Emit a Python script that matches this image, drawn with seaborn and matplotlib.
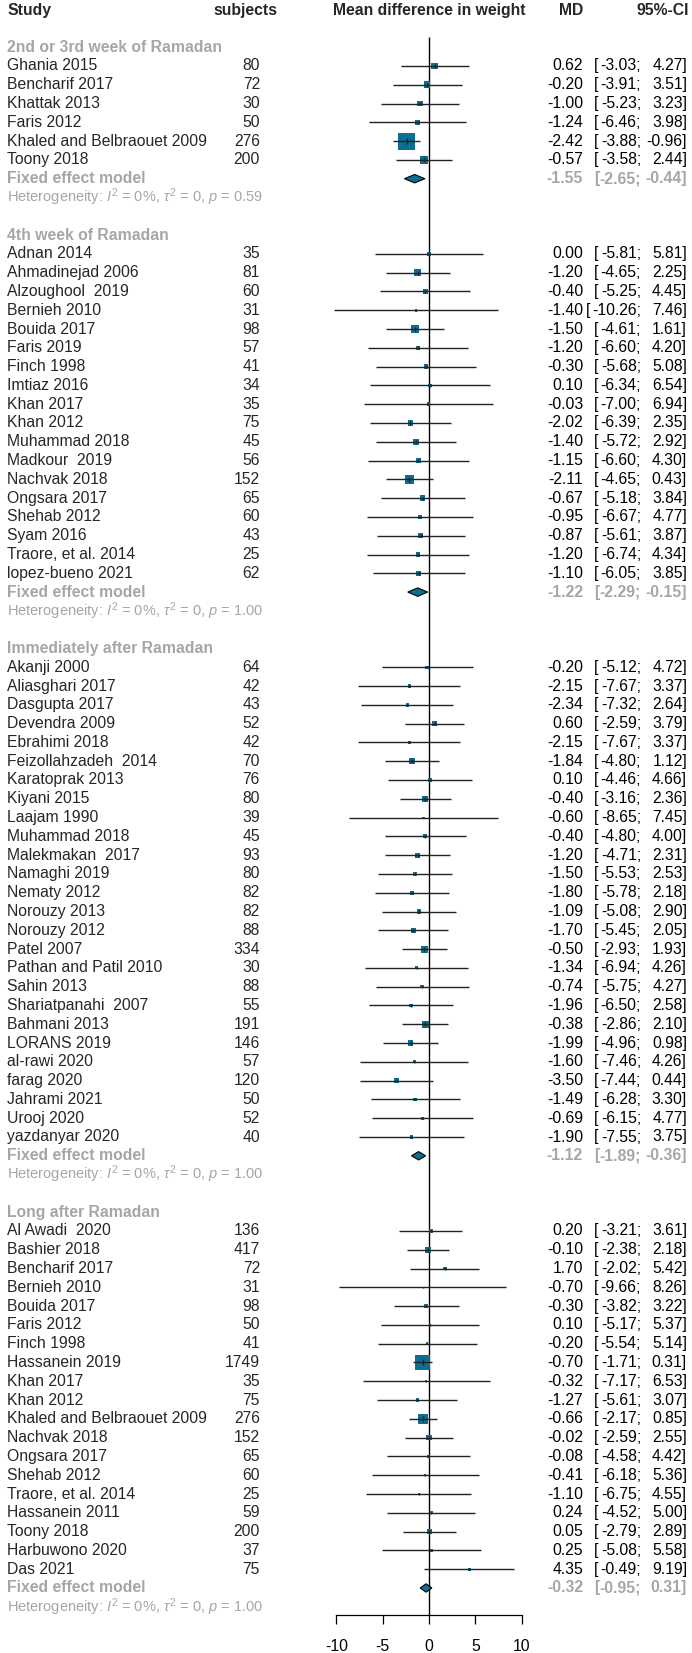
import numpy as np
import pandas as pd
import matplotlib
matplotlib.use("Agg")
import matplotlib.pyplot as plt
import seaborn as sns

# ---- data ----
g1_title = "2nd or 3rd week of Ramadan"
g1_study = ["Ghania 2015", "Bencharif 2017", "Khattak 2013", "Faris 2012",
            "Khaled and Belbraouet 2009", "Toony 2018"]
g1_n = [80, 72, 30, 50, 276, 200]
g1_md = [0.62, -0.20, -1.00, -1.24, -2.42, -0.57]
g1_lo = [-3.03, -3.91, -5.23, -6.46, -3.88, -3.58]
g1_hi = [4.27, 3.51, 3.23, 3.98, -0.96, 2.44]
g1_fixed = [-1.55, -2.65, -0.44]
g1_p = "0.59"

g2_title = "4th week of Ramadan"
g2_study = ["Adnan 2014", "Ahmadinejad 2006", "Alzoughool  2019", "Bernieh 2010",
            "Bouida 2017", "Faris 2019", "Finch 1998", "Imtiaz 2016", "Khan 2017",
            "Khan 2012", "Muhammad 2018", "Madkour  2019", "Nachvak 2018",
            "Ongsara 2017", "Shehab 2012", "Syam 2016", "Traore, et al. 2014",
            "lopez-bueno 2021"]
g2_n = [35, 81, 60, 31, 98, 57, 41, 34, 35, 75, 45, 56, 152, 65, 60, 43, 25, 62]
g2_md = [0.00, -1.20, -0.40, -1.40, -1.50, -1.20, -0.30, 0.10, -0.03, -2.02,
         -1.40, -1.15, -2.11, -0.67, -0.95, -0.87, -1.20, -1.10]
g2_lo = [-5.81, -4.65, -5.25, -10.26, -4.61, -6.60, -5.68, -6.34, -7.00, -6.39,
         -5.72, -6.60, -4.65, -5.18, -6.67, -5.61, -6.74, -6.05]
g2_hi = [5.81, 2.25, 4.45, 7.46, 1.61, 4.20, 5.08, 6.54, 6.94, 2.35,
         2.92, 4.30, 0.43, 3.84, 4.77, 3.87, 4.34, 3.85]
g2_fixed = [-1.22, -2.29, -0.15]
g2_p = "1.00"

g3_title = "Immediately after Ramadan"
g3_study = ["Akanji 2000", "Aliasghari 2017", "Dasgupta 2017", "Devendra 2009",
            "Ebrahimi 2018", "Feizollahzadeh  2014", "Karatoprak 2013", "Kiyani 2015",
            "Laajam 1990", "Muhammad 2018", "Malekmakan  2017", "Namaghi 2019",
            "Nematy 2012", "Norouzy 2013", "Norouzy 2012", "Patel 2007",
            "Pathan and Patil 2010", "Sahin 2013", "Shariatpanahi  2007",
            "Bahmani 2013", "LORANS 2019", "al-rawi 2020", "farag 2020",
            "Jahrami 2021", "Urooj 2020", "yazdanyar 2020"]
g3_n = [64, 42, 43, 52, 42, 70, 76, 80, 39, 45, 93, 80, 82, 82, 88, 334, 30, 88,
        55, 191, 146, 57, 120, 50, 52, 40]
g3_md = [-0.20, -2.15, -2.34, 0.60, -2.15, -1.84, 0.10, -0.40, -0.60, -0.40,
         -1.20, -1.50, -1.80, -1.09, -1.70, -0.50, -1.34, -0.74, -1.96, -0.38,
         -1.99, -1.60, -3.50, -1.49, -0.69, -1.90]
g3_lo = [-5.12, -7.67, -7.32, -2.59, -7.67, -4.80, -4.46, -3.16, -8.65, -4.80,
         -4.71, -5.53, -5.78, -5.08, -5.45, -2.93, -6.94, -5.75, -6.50, -2.86,
         -4.96, -7.46, -7.44, -6.28, -6.15, -7.55]
g3_hi = [4.72, 3.37, 2.64, 3.79, 3.37, 1.12, 4.66, 2.36, 7.45, 4.00,
         2.31, 2.53, 2.18, 2.90, 2.05, 1.93, 4.26, 4.27, 2.58, 2.10,
         0.98, 4.26, 0.44, 3.30, 4.77, 3.75]
g3_fixed = [-1.12, -1.89, -0.36]
g3_p = "1.00"

g4_title = "Long after Ramadan"
g4_study = ["Al Awadi  2020", "Bashier 2018", "Bencharif 2017", "Bernieh 2010",
            "Bouida 2017", "Faris 2012", "Finch 1998", "Hassanein 2019", "Khan 2017",
            "Khan 2012", "Khaled and Belbraouet 2009", "Nachvak 2018", "Ongsara 2017",
            "Shehab 2012", "Traore, et al. 2014", "Hassanein 2011", "Toony 2018",
            "Harbuwono 2020", "Das 2021"]
g4_n = [136, 417, 72, 31, 98, 50, 41, 1749, 35, 75, 276, 152, 65, 60, 25, 59, 200, 37, 75]
g4_md = [0.20, -0.10, 1.70, -0.70, -0.30, 0.10, -0.20, -0.70, -0.32, -1.27,
         -0.66, -0.02, -0.08, -0.41, -1.10, 0.24, 0.05, 0.25, 4.35]
g4_lo = [-3.21, -2.38, -2.02, -9.66, -3.82, -5.17, -5.54, -1.71, -7.17, -5.61,
         -2.17, -2.59, -4.58, -6.18, -6.75, -4.52, -2.79, -5.08, -0.49]
g4_hi = [3.61, 2.18, 5.42, 8.26, 3.22, 5.37, 5.14, 0.31, 6.53, 3.07,
         0.85, 2.55, 4.42, 5.36, 4.55, 5.00, 2.89, 5.58, 9.19]
g4_fixed = [-0.32, -0.95, 0.31]
g4_p = "1.00"

x_ticks = [-10, -5, 0, 5, 10]

groups = [
    (g1_title, g1_study, g1_n, g1_md, g1_lo, g1_hi, g1_fixed, g1_p),
    (g2_title, g2_study, g2_n, g2_md, g2_lo, g2_hi, g2_fixed, g2_p),
    (g3_title, g3_study, g3_n, g3_md, g3_lo, g3_hi, g3_fixed, g3_p),
    (g4_title, g4_study, g4_n, g4_md, g4_lo, g4_hi, g4_fixed, g4_p),
]

# ---- layout ----
W, H = 692, 1653
X0, PX_UNIT = 429, 9.27      # pixel of x=0, pixels per unit
Y0, ROW = 9.6, 18.79         # pixel of row 0, pixels per row
BLUE = "#0b6e92"
GREY = "#a6a6a6"
FS = 11.3


def px(x):
    return (x - X0) / PX_UNIT


sns.set_style("white")
plt.rcParams["font.family"] = ["Liberation Sans", "DejaVu Sans"]
plt.rcParams["mathtext.fontset"] = "custom"
plt.rcParams["mathtext.rm"] = "Liberation Sans"
plt.rcParams["mathtext.it"] = "Liberation Sans:italic"

# build study table with row positions and within-group weights
rows = []
fixed_rows = []
cur = 2
for title, study, n, md, lo, hi, fixed, p in groups:
    se = (np.array(hi) - np.array(lo)) / 3.92
    w = 1 / se ** 2
    pct = 100 * w / w.sum()
    for i in range(len(study)):
        rows.append(dict(study=study[i], n=n[i], md=md[i], lo=lo[i], hi=hi[i],
                         row=cur + 1 + i, pct=pct[i]))
    fixed_rows.append((title, cur, cur + len(study) + 1, fixed, p))
    cur += len(study) + 4
df = pd.DataFrame(rows)
df["side_px"] = 2.25 * np.sqrt(df["pct"])
df["s"] = (df["side_px"] * 0.72) ** 2

fig = plt.figure(figsize=(W / 100, H / 100), dpi=100)
ax = fig.add_axes([0, 0, 1, 1])
ax.set_xlim(px(0), px(W))
ax.set_ylim((H - Y0) / ROW, -Y0 / ROW)

axis_row = (1615 - Y0) / ROW
ax.vlines(0, (37 - Y0) / ROW, axis_row, color="black", lw=1.0, zorder=2)

smin, smax = df["s"].min(), df["s"].max()
sns.scatterplot(data=df, x="md", y="row", size="s", sizes=(smin, smax),
                size_norm=(smin, smax), marker="s", color=BLUE, linewidth=0,
                legend=False, ax=ax, zorder=3)
ax.hlines(df["row"], df["lo"], df["hi"], color="#222222", lw=1.0, zorder=4)
half = np.minimum(3.0, df["side_px"] * 0.3) / ROW
ax.vlines(df["md"], df["row"] - half, df["row"] + half, color="#222222", lw=1.0, zorder=4)

# header
hy = 0.07
ax.text(px(7), hy, "Study", ha="left", va="center", fontsize=FS, fontweight="bold")
ax.text(px(277), hy, "subjects", ha="right", va="center", fontsize=FS, fontweight="bold")
ax.text(0, hy, "Mean difference in weight", ha="center", va="center", fontsize=FS, fontweight="bold")
ax.text(px(583), hy, "MD", ha="right", va="center", fontsize=FS, fontweight="bold")
ax.text(px(689), hy, "95%-CI", ha="right", va="center", fontsize=FS, fontweight="bold")


def ci_text(r, md, lo, hi, color, weight):
    kw = dict(va="center", fontsize=FS, color=color, fontweight=weight)
    lo_str = f"{lo:.2f}"
    ax.text(px(583), r, f"{md:.2f}", ha="right", **kw)
    # R pads the short bounds with a space, so "[" only moves for 3-digit bounds
    ax.text(px(594 if len(lo_str) < 6 else 586), r, "[", ha="left", **kw)
    ax.text(px(641), r, lo_str + ";", ha="right", **kw)
    ax.text(px(687), r, f"{hi:.2f}]", ha="right", **kw)


for _, d in df.iterrows():
    ax.text(px(7), d["row"], d["study"], ha="left", va="center", fontsize=FS)
    ax.text(px(260), d["row"], str(d["n"]), ha="right", va="center", fontsize=FS)
    ci_text(d["row"], d["md"], d["lo"], d["hi"], "black", "normal")

for title, trow, frow, fixed, p in fixed_rows:
    ax.text(px(7), trow, title, ha="left", va="center", fontsize=FS,
            color=GREY, fontweight="bold")
    md, lo, hi = fixed
    h = 4.2 / ROW
    ax.fill([lo, md, hi, md], [frow, frow - h, frow, frow + h],
            facecolor=BLUE, edgecolor="black", lw=0.8, zorder=3)
    ax.text(px(7), frow, "Fixed effect model", ha="left", va="center",
            fontsize=FS, color=GREY, fontweight="bold")
    ci_text(frow, md, lo, hi, GREY, "bold")
    ax.text(px(7), frow + 1, f"Heterogeneity: $I^2$ = 0%, $\\tau^2$ = 0, $p$ = {p}",
            ha="left", va="center", fontsize=10.5, color=GREY)

# bottom axis
for side in ["top", "left", "right"]:
    ax.spines[side].set_visible(False)
ax.spines["bottom"].set_position(("data", axis_row))
ax.spines["bottom"].set_bounds(-10, 10)
ax.spines["bottom"].set_linewidth(0.9)
ax.spines["bottom"].set_color("black")
ax.set_xticks(x_ticks)
ax.set_xticklabels([str(t) for t in x_ticks])
ax.set_yticks([])
ax.tick_params(axis="x", bottom=True, direction="out", length=6.5, width=0.9,
               pad=11, labelsize=FS, colors="black")
ax.set_xlabel("")
ax.set_ylabel("")

fig.savefig("out.png", dpi=100)
